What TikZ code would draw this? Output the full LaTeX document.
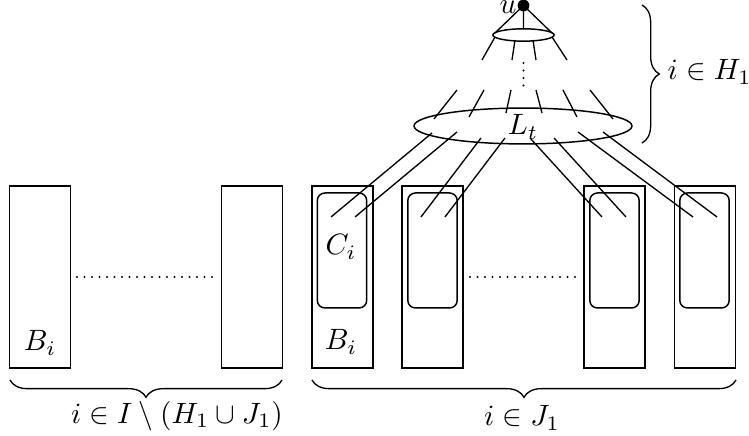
\documentclass[tikz,border=0pt]{standalone}
\usetikzlibrary{decorations.pathreplacing,shapes.geometric}
\begin{document}
\begin{tikzpicture}[x=0.34pt,y=-0.34pt,line width=0.5pt,
  outerbox/.style={draw,minimum width=20.6pt,minimum height=61.9pt,inner sep=0pt},
  innerbox/.style={draw,rounded corners=2.6pt,minimum width=16.8pt,minimum height=39.1pt,inner sep=0pt},
  edge/.style={line width=0.45pt},
  dotline/.style={line width=0.8pt,line cap=round,dash pattern=on 0pt off 2.55pt},
  brc/.style={decorate,decoration={brace,amplitude=5.9pt},line width=0.45pt}]
\useasboundingbox (0,0) rectangle (749,436);
% left group
\node[outerbox] (L1) at (40,277) {};
\node[outerbox] (L2) at (252,277) {};
\node (BL) at (40,343) {$B_i$};
\coordinate (ld1) at (77,277);
\coordinate (ld2) at (213,277);
\draw[dotline] (ld1) -- (ld2);
% right group
\node[outerbox] (RA) at (342.5,277) {};
\node[outerbox] (RB) at (432.5,277) {};
\node[outerbox] (RC) at (614.5,277) {};
\node[outerbox] (RD) at (705,277) {};
\node[innerbox] (CA) at (342,250.5) {};
\node[innerbox] (CB) at (432.5,250.5) {};
\node[innerbox] (CC) at (614.5,250.5) {};
\node[innerbox] (CD) at (704.5,250.5) {};
\node (CiL) at (341,247) {$C_i$};
\node (BiR) at (341,342) {$B_i$};
\coordinate (rd1) at (470,277);
\coordinate (rd2) at (577,277);
\draw[dotline] (rd1) -- (rd2);
% ellipses and u
\node[draw,ellipse,minimum width=74.1pt,minimum height=12.2pt,inner sep=0pt] (Lt) at (523,126) {};
\node (Ltl) at (523,127) {$L_t$};
\node[draw,ellipse,minimum width=20.8pt,minimum height=4.2pt,inner sep=0pt] (E1) at (523.5,35) {};
\node[circle,fill,inner sep=0pt,minimum size=4pt] (u) at (523.5,5.5) {};
\node[anchor=base,inner sep=0pt] (ul) at (508,14) {$u$};
% u to small ellipse
\coordinate (e1a) at (495,33);
\coordinate (e1b) at (523.5,29.5);
\coordinate (e1c) at (552,33);
\draw[edge] (u.center) -- (e1a) (u.center) -- (e1b) (u.center) -- (e1c);
% lines below small ellipse
\coordinate (s1a) at (495,37); \coordinate (s1b) at (482,60);
\coordinate (s2a) at (515,40); \coordinate (s2b) at (512,60);
\coordinate (s3a) at (533,40); \coordinate (s3b) at (536,60);
\coordinate (s4a) at (552,37); \coordinate (s4b) at (567,60);
\draw[edge] (s1a) -- (s1b) (s2a) -- (s2b) (s3a) -- (s3b) (s4a) -- (s4b);
% vertical dots
\coordinate (vd1) at (523.5,63);
\coordinate (vd2) at (523.5,86);
\draw[dotline] (vd1) -- (vd2);
% lines above big ellipse
\coordinate (t1a) at (457,90); \coordinate (t1b) at (434,119);
\coordinate (t2a) at (484,90); \coordinate (t2b) at (469,117);
\coordinate (t3a) at (511,90); \coordinate (t3b) at (506,113);
\coordinate (t4a) at (536,90); \coordinate (t4b) at (542,113);
\coordinate (t5a) at (563,90); \coordinate (t5b) at (577,117);
\coordinate (t6a) at (590,90); \coordinate (t6b) at (613,119);
\draw[edge] (t1a) -- (t1b) (t2a) -- (t2b) (t3a) -- (t3b) (t4a) -- (t4b) (t5a) -- (t5b) (t6a) -- (t6b);
% lines from big ellipse to boxes
\coordinate (b1a) at (432,133); \coordinate (b1b) at (331,217);
\coordinate (b2a) at (457,132); \coordinate (b2b) at (355,217);
\coordinate (b3a) at (481,138); \coordinate (b3b) at (421,217);
\coordinate (b4a) at (505,138); \coordinate (b4b) at (445,217);
\coordinate (b5a) at (530,138); \coordinate (b5b) at (602,217);
\coordinate (b6a) at (554,138); \coordinate (b6b) at (626,217);
\coordinate (b7a) at (578,132); \coordinate (b7b) at (693,217);
\coordinate (b8a) at (603,132); \coordinate (b8b) at (717,217);
\draw[edge] (b1a) -- (b1b) (b2a) -- (b2b) (b3a) -- (b3b) (b4a) -- (b4b)
  (b5a) -- (b5b) (b6a) -- (b6b) (b7a) -- (b7b) (b8a) -- (b8b);
% braces
\coordinate (brL1) at (282,380); \coordinate (brL2) at (10,380);
\draw[brc] (brL1) -- (brL2);
\node (labL) at (177,416) {$i\in I\setminus(H_1\cup J_1)$};
\coordinate (brR1) at (736,380); \coordinate (brR2) at (312,380);
\draw[brc] (brR1) -- (brR2);
\node (labR) at (522,418) {$i\in J_1$};
\coordinate (brH1) at (642,5); \coordinate (brH2) at (642,143);
\draw[brc] (brH1) -- (brH2);
\node[anchor=west,inner sep=0pt] (labH) at (667,72) {$i\in H_1$};
\end{tikzpicture}
\end{document}
